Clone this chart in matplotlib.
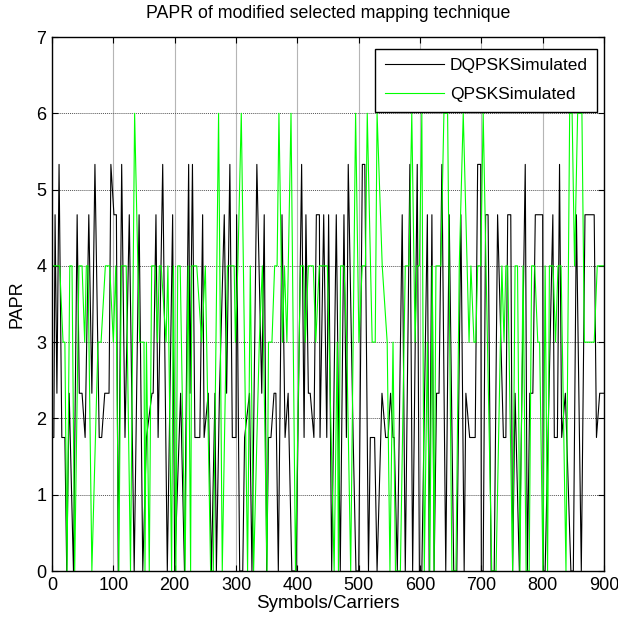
import matplotlib
matplotlib.use("Agg")
import matplotlib.pyplot as plt

plt.rcParams['font.family'] = ['Liberation Sans', 'DejaVu Sans']

# PAPR levels
A, B, C, D, E = 0.0, 1.75, 2.33, 4.67, 5.33
Z, T, F, S = 0.0, 3.0, 4.0, 6.0

dqpsk_x = [0, 3, 5, 8, 11.5, 16, 21, 24, 28, 35, 41, 44.5, 49, 54, 60, 65, 70, 77, 81, 86,
           93, 96, 101, 105, 108, 113.6, 119, 126, 134, 142, 148, 154, 163, 165, 169.5, 173,
           180.5, 188, 196.7, 200, 209.7, 216, 222.8, 225, 229, 233, 241, 245.6, 248, 254.8,
           260, 265.7, 268, 273, 280.9, 284.7, 290, 294, 300, 301, 306, 311, 314, 322, 326,
           334, 342, 346, 350, 353, 357, 362, 365, 369, 375, 380, 385, 391, 395, 398, 407,
           411, 414, 418, 421, 427, 431, 436, 437, 443, 448, 451, 456, 463.5, 470, 476, 480,
           483, 491, 495.6, 500, 506, 510, 516, 519, 526, 530, 538, 544, 548, 552, 556, 558,
           563, 571, 576, 583.5, 588, 595.5, 599, 603, 612, 615, 619.4, 623, 627, 631, 635.7,
           642, 647.6, 655, 660, 666.7, 672, 674.8, 681, 690, 694, 699, 700, 703, 707, 711,
           716, 721, 726.5, 736, 740, 743, 748, 751, 755, 762, 771.6, 775, 779, 784, 788, 800,
           801, 804, 816.6, 819, 824, 827.5, 831, 837, 846, 850, 855, 863, 869, 884, 887.7,
           893, 900]
dqpsk_y = [B, B, D, C, E, B, B, A, C, A, D, C, C, B, D, C, E, B, B, C,
           C, E, D, D, A, E, B, D, A, D, A, B, C, C, D, B,
           E, A, D, A, C, A, E, C, E, B, B, D, B, C,
           A, C, A, C, D, C, E, B, B, D, A, A, B, C, A,
           E, C, D, A, B, B, C, C, A, D, B, C, A, A, A, E,
           B, D, C, C, B, D, D, B, D, B, D, A, D, A, D, B,
           E, B, A, A, E, E, A, B, B, A, C, B, B, C, B, B,
           A, D, A, E, A, E, A, A, D, A, D, A, C, C, E,
           A, D, A, A, D, A, C, B, B, E, E, A, A, D, D,
           A, A, D, B, B, D, D, A, C, A, E, A, C, C, D, D,
           A, A, D, B, B, E, B, C, A, A, D, A, D, D, B,
           C, C]

qpsk_x = [0, 12.5, 18, 21, 24.5, 29, 32.6, 37, 44, 49, 53.3, 56, 58.7, 65, 75, 80, 87, 94,
          100, 104, 109, 113, 121, 128, 134.7, 140, 143, 150, 151.6, 154, 158.6, 162.5, 168,
          172, 175, 178, 186, 189, 195, 198, 202, 205, 209, 217, 222, 226, 228, 236, 244,
          250, 258.6, 263, 271.6, 277.6, 286, 293, 297, 299, 303, 308.6, 318.9, 323.3,
          328.7, 338, 343, 350.5, 353, 358.6, 363, 367, 370, 375.8, 379, 383, 389.7, 397,
          405, 410, 413, 418, 426, 430, 435.8, 445.5, 449, 460, 465, 467, 470.5, 476, 480.5,
          487, 495, 500.4, 505.8, 511, 514, 522, 527, 530, 538.4, 546.5, 551, 556, 560, 568,
          576, 582, 586.6, 592, 595, 599, 603, 607, 612, 616, 620, 623, 626, 634, 639, 645,
          652, 658.6, 664, 670.5, 680, 683, 688, 691, 694, 699, 703, 710, 717, 724, 733.5,
          737, 740, 743, 751, 755, 759, 763, 768, 773, 778, 782, 787, 792, 795, 800.5, 804,
          808, 811, 817, 821, 825, 830, 838, 844, 848, 852, 857, 864, 868, 884, 889, 900]
qpsk_y = [F, F, T, T, Z, F, F, Z, F, F, T, F, F, Z, T, T, F, F,
          T, F, Z, F, F, Z, S, F, T, T, Z, T, Z, F, F,
          T, F, F, T, F, Z, F, Z, F, F, Z, F, Z, F, F, T,
          F, Z, Z, S, Z, F, F, F, T, F, S, Z, F,
          Z, T, F, Z, T, T, F, F, S, T, F, T, S, Z,
          F, F, T, F, F, T, F, F, F, Z, T, Z, F, F, T,
          Z, S, T, F, F, S, T, T, S, F, T, Z, T, Z, Z,
          F, F, S, T, F, F, S, Z, T, Z, F, Z, F, F, S, S,
          Z, Z, F, S, T, F, T, T, F, F, S, T, Z, Z, F,
          T, F, F, Z, F, F, Z, F, Z, Z, F, F, T, T, Z, F,
          Z, F, F, T, F, F, Z, S, S, F, S, S, T, T, F, F]

x_ticks = [0, 100, 200, 300, 400, 500, 600, 700, 800, 900]
y_ticks = [0, 1, 2, 3, 4, 5, 6, 7]

fig = plt.figure(figsize=(6.18, 6.32), dpi=100)
ax = fig.add_axes([52/618, 61/632, 552/618, 534/632])

ax.plot(dqpsk_x, dqpsk_y, color='black', lw=0.8, label='DQPSKSimulated')
ax.plot(qpsk_x, qpsk_y, color='#00ff00', lw=0.8, label='QPSKSimulated')

ax.set_xlim(0, 900)
ax.set_ylim(0, 7)
ax.set_xticks(x_ticks)
ax.set_yticks(y_ticks)
ax.tick_params(direction='in', top=True, right=True, length=4, width=0.8,
               labelsize=13, pad=4)
ax.xaxis.grid(True, color='#b5b5b5', lw=0.8, ls='-')
ax.yaxis.grid(True, color='#555555', lw=0.7, ls=(0, (1, 1)))
ax.set_axisbelow(True)
for sp in ax.spines.values():
    sp.set_linewidth(1.0)

ax.set_xlabel('Symbols/Carriers', fontsize=13.5, labelpad=1)
ax.set_ylabel('PAPR', fontsize=13, labelpad=8)
ax.set_title('PAPR of modified selected mapping technique', fontsize=12.8, pad=14)

leg = ax.legend(loc='upper right', bbox_to_anchor=(0.988, 0.978), borderaxespad=0,
                fontsize=12.5, frameon=True, fancybox=False, framealpha=1,
                edgecolor='black', handlelength=3.4, handletextpad=0.35,
                borderpad=0.55, labelspacing=0.8)
leg.get_frame().set_linewidth(1.0)

fig.savefig('out.png', dpi=100)
